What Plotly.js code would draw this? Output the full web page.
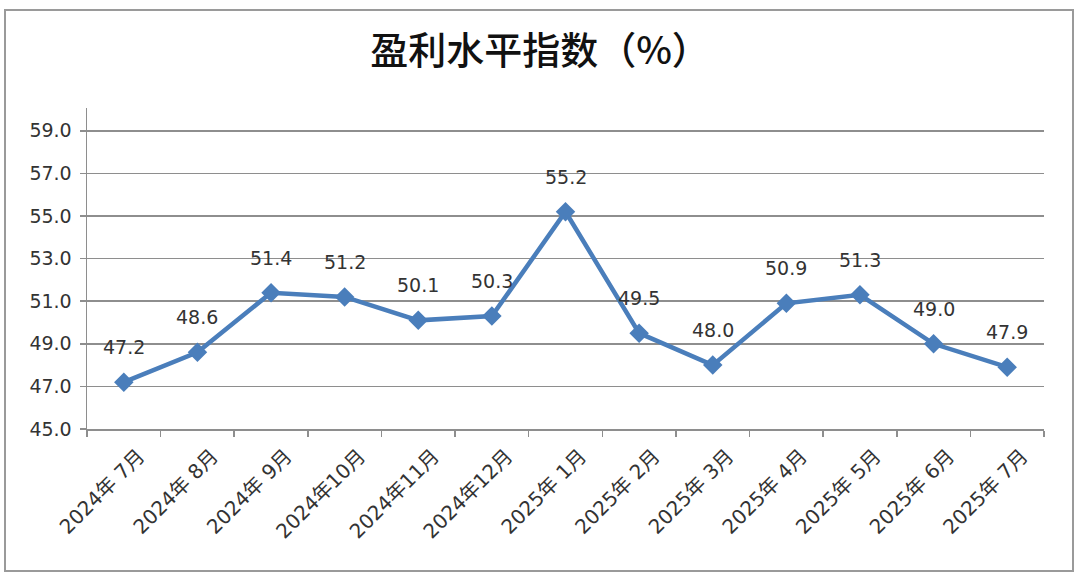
<!DOCTYPE html>
<html>
<head>
<meta charset="utf-8">
<script src="https://cdn.plot.ly/plotly-3.0.1.min.js"></script>
<style>
html,body{margin:0;padding:0;background:#fff;}
#chart{width:1080px;height:578px;}
</style>
</head>
<body>
<div id="chart"></div>
<script>
const months = ["2024年 7月","2024年 8月","2024年 9月","2024年10月","2024年11月","2024年12月","2025年 1月","2025年 2月","2025年 3月","2025年 4月","2025年 5月","2025年 6月","2025年 7月"];
const values = [47.2, 48.6, 51.4, 51.2, 50.1, 50.3, 55.2, 49.5, 48.0, 50.9, 51.3, 49.0, 47.9];
const yTicks = [45, 47, 49, 51, 53, 55, 57, 59];
const chartTitle = "盈利水平指数（%）";

const lineColor = "#4a7ebb";
const gridColor = "#8e8e8e";
const labelFont = {family: "DejaVu Sans, sans-serif", size: 19, color: "#333333"};

const trace = {
  type: "scatter",
  mode: "lines+markers",
  x: months,
  y: values,
  line: {color: lineColor, width: 4.5},
  marker: {symbol: "diamond", size: 15, color: lineColor},
  hoverinfo: "x+y"
};

const annotations = months.map((m, i) => ({
  x: m, y: values[i], xref: "x", yref: "y",
  text: values[i].toFixed(1),
  showarrow: false,
  yshift: 35,
  font: labelFont
}));

// chart outer frame
const L = 87, R = 1044, T = 108, B = 429;
const pw = R - L, ph = B - T;
const shapes = [{
  type: "rect", xref: "paper", yref: "paper",
  x0: (5 - L) / pw, x1: (1073 - L) / pw,
  y0: (B - 571) / ph, y1: (B - 10) / ph,
  line: {color: "#9a9a9a", width: 2},
  fillcolor: "rgba(0,0,0,0)",
  layer: "below"
}];

const layout = {
  width: 1080, height: 578,
  margin: {l: L, r: 1080 - R, t: T, b: 578 - B, pad: 0},
  paper_bgcolor: "#ffffff",
  plot_bgcolor: "#ffffff",
  showlegend: false,
  title: {
    text: chartTitle,
    x: 540 / 1080, xanchor: "center",
    y: 1 - 51 / 578, yanchor: "middle",
    font: {family: "Noto Sans CJK SC, sans-serif", size: 38, weight: 500, color: "#111111"}
  },
  xaxis: {
    type: "category",
    range: [-0.5, months.length - 0.5],
    tickangle: -45,
    tickfont: {family: "DejaVu Sans, Noto Sans CJK SC, sans-serif", size: 20, color: "#333333"},
    ticklabelshift: 15,
    ticklabelstandoff: 6,
    showgrid: false,
    showline: true, linecolor: gridColor, linewidth: 1.5,
    ticks: "outside", ticklen: 6, tickcolor: gridColor, tickwidth: 1.5,
    tickson: "boundaries",
    zeroline: false,
    fixedrange: true
  },
  yaxis: {
    range: [45, 60.07],
    tickvals: yTicks,
    ticktext: yTicks.map(v => v.toFixed(1)),
    tickfont: labelFont,
    ticklabelstandoff: 4,
    showgrid: true, gridcolor: gridColor, gridwidth: 1.5,
    showline: true, linecolor: gridColor, linewidth: 1.5,
    ticks: "outside", ticklen: 6, tickcolor: gridColor, tickwidth: 1.5,
    zeroline: false,
    fixedrange: true
  },
  annotations: annotations,
  shapes: shapes
};

Plotly.newPlot("chart", [trace], layout, {displayModeBar: false, staticPlot: true});
</script>
</body>
</html>
